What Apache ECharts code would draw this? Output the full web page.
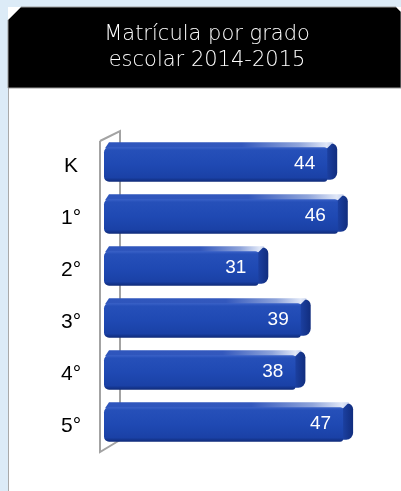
<!DOCTYPE html>
<html>
<head>
<meta charset="utf-8">
<script src="https://cdn.jsdelivr.net/npm/echarts@6/dist/echarts.min.js"></script>
<style>
html,body{margin:0;padding:0;background:#dcebf7;}
#chart{width:401px;height:491px;}
</style>
</head>
<body>
<div id="chart"></div>
<script>
const categories = ['K', '1°', '2°', '3°', '4°', '5°'];
const values = [44, 46, 31, 39, 38, 47];
const titleLines = ['Matrícula por grado', 'escolar 2014-2015'];

const GRID = {left: 104, top: 136, right: 32, bottom: 43};

const chart = echarts.init(document.getElementById('chart'));

function renderBar(params, api) {
  const v = api.value(0);
  const c = api.value(1);
  const p0 = api.coord([0, c]);
  const p1 = api.coord([v, c]);
  const bh = api.size([0, 1])[1] * 0.76;
  const top = p0[1] - bh / 2, bot = p0[1] + bh / 2;
  const x0 = p0[0], x1 = p1[0];
  const d = 10, t = 6;
  const frontRight = x1 - d;
  return {
    type: 'group',
    children: [
      { // side face
        type: 'rect',
        shape: {x: frontRight - 6, y: top + 1, width: d + 6, height: bh - 3, r: [3, 6, 7, 3]},
        style: {fill: new echarts.graphic.LinearGradient(0, 0, 1, 0, [
          {offset: 0, color: '#2a52bb'}, {offset: 0.4, color: '#1b3f9f'}, {offset: 1, color: '#112d7e'}])}
      },
      { // top face
        type: 'polygon',
        shape: {points: [[x0 + 1, top + t], [x0 + 5, top], [x1 - 4, top], [frontRight, top + t]]},
        style: {fill: new echarts.graphic.LinearGradient(0, 0, 1, 0, [
          {offset: 0, color: '#2e55bc'}, {offset: 0.6, color: '#3358bd'},
          {offset: 0.85, color: '#8fa4da'}, {offset: 0.97, color: '#e0e7f7'}, {offset: 1, color: '#c5d1ee'}])}
      },
      { // front face
        type: 'rect',
        shape: {x: x0, y: top + t - 1, width: frontRight - x0, height: bh - t + 1, r: [5, 3, 3, 5]},
        style: {fill: new echarts.graphic.LinearGradient(0, 0, 0, 1, [
          {offset: 0, color: '#3a62c8'}, {offset: 0.08, color: '#2650b9'},
          {offset: 0.5, color: '#1f49b3'}, {offset: 0.88, color: '#1a41a6'}, {offset: 1, color: '#0f2a78'}])}
      },
      { // value label
        type: 'text',
        style: {
          text: String(v), x: x1 - 22, y: (top + t + bot) / 2 - 1,
          align: 'right', verticalAlign: 'middle', fill: '#ffffff',
          font: '19px "Liberation Sans", Arial, sans-serif'
        }
      }
    ]
  };
}

const wallColor = '#a3a3a3';
const gTop = GRID.top, gBot = 491 - GRID.bottom;

chart.setOption({
  backgroundColor: '#dcebf7',
  animation: false,
  graphic: [
    {type: 'rect', z: -20, shape: {x: 8, y: 7, width: 393, height: 484}, style: {fill: '#ffffff'}},
    {type: 'line', z: -19, shape: {x1: 8.5, y1: 20, x2: 8.5, y2: 491}, style: {stroke: '#a9a9a9', lineWidth: 1}},
    {type: 'polygon', z: -18, shape: {points: [[8, 20], [21, 7], [396, 7], [401, 12], [401, 88], [8, 88]]},
      style: {fill: '#000000', stroke: '#9a9a9a', lineWidth: 1}},
    {type: 'text', z: -17, style: {text: titleLines.join('\n'), x: 207, y: 48, align: 'center', verticalAlign: 'middle',
      fill: '#ffffff', font: '200 21px "DejaVu Sans", sans-serif', lineHeight: 26}},
    // axis wall
    {type: 'polyline', z: -10, shape: {points: [[100, gTop + 5], [120, gTop - 5], [120, gBot - 8]]},
      style: {stroke: wallColor, lineWidth: 2, fill: null}},
    {type: 'polyline', z: -10, shape: {points: [[100, gTop + 5], [100, gBot + 4], [120, gBot - 8]]},
      style: {stroke: wallColor, lineWidth: 2, fill: null}}
  ],
  grid: GRID,
  xAxis: {
    type: 'value', min: 0, max: 50, show: false
  },
  yAxis: {
    type: 'category', data: categories, inverse: true,
    axisLine: {show: false}, axisTick: {show: false}, splitLine: {show: false},
    axisLabel: {
      color: '#000000', fontSize: 21, fontFamily: '"Liberation Sans", Arial, sans-serif',
      align: 'center', margin: 33, verticalAlign: 'top', lineHeight: 8
    }
  },
  series: [{
    type: 'custom',
    renderItem: renderBar,
    encode: {x: 0, y: 1},
    data: values.map((v, i) => [v, i])
  }]
});
</script>
</body>
</html>
